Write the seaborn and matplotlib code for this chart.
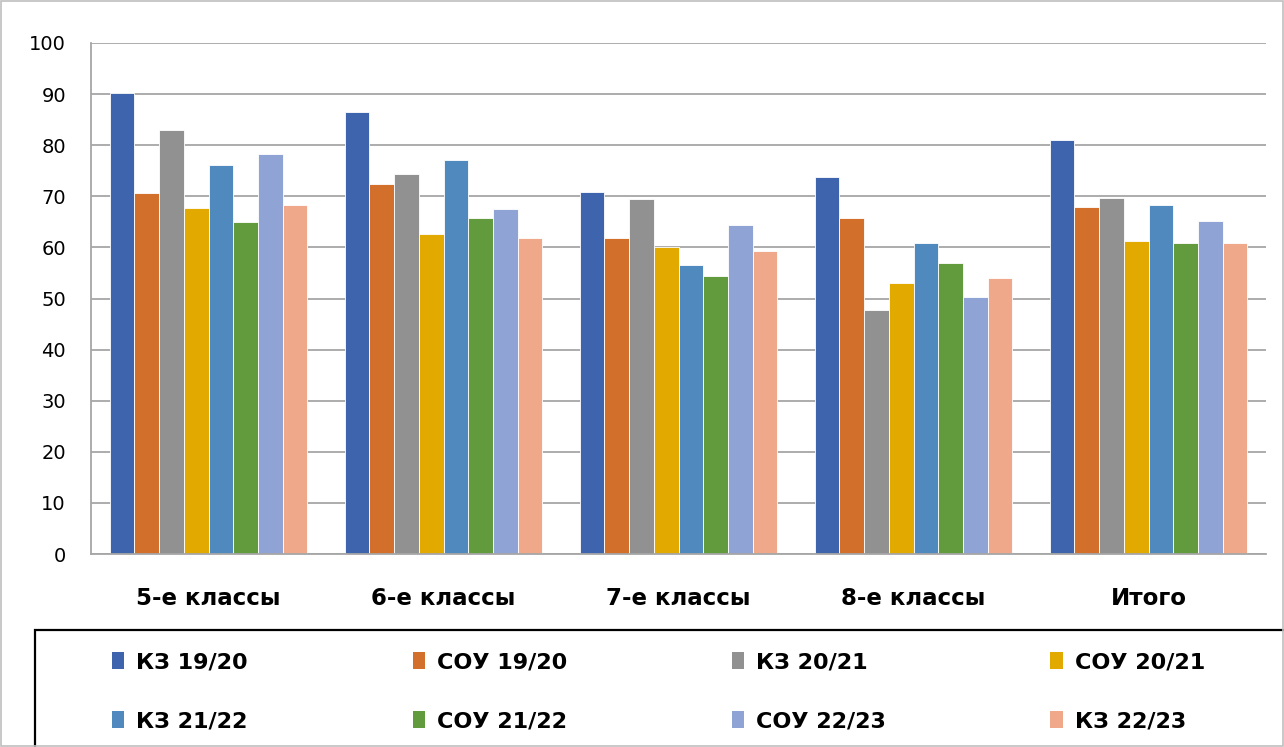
import matplotlib
matplotlib.use("Agg")
import matplotlib.pyplot as plt
import seaborn as sns
import pandas as pd
import numpy as np
from matplotlib.patches import Rectangle, Patch

categories = ["5-е классы", "6-е классы", "7-е классы", "8-е классы", "Итого"]
series = ["КЗ 19/20", "СОУ 19/20", "КЗ 20/21", "СОУ 20/21",
          "КЗ 21/22", "СОУ 21/22", "СОУ 22/23", "КЗ 22/23"]
kz_1920 = [90.2, 86.5, 70.8, 73.7, 81.0]
sou_1920 = [70.6, 72.4, 61.9, 65.8, 67.9]
kz_2021 = [83.0, 74.4, 69.4, 47.7, 69.6]
sou_2021 = [67.7, 62.7, 60.0, 53.0, 61.2]
kz_2122 = [76.2, 77.1, 56.6, 60.8, 68.2]
sou_2122 = [65.0, 65.8, 54.5, 56.9, 60.9]
sou_2223 = [78.2, 67.6, 64.4, 50.2, 65.1]
kz_2223 = [68.3, 61.9, 59.2, 54.0, 60.8]
yticks = [0, 10, 20, 30, 40, 50, 60, 70, 80, 90, 100]

colors = ["#3D64AD", "#D26F2A", "#919191", "#E2AA00",
          "#4F89BD", "#629A3E", "#8FA3D4", "#F0A88A"]

values = [kz_1920, sou_1920, kz_2021, sou_2021, kz_2122, sou_2122, sou_2223, kz_2223]
rows = []
for s, vals in zip(series, values):
    for c, v in zip(categories, vals):
        rows.append({"cat": c, "series": s, "val": v})
df = pd.DataFrame(rows)

sns.set_style("white")
plt.rcParams["font.family"] = ["DejaVu Sans"]
plt.rcParams["text.color"] = "black"
plt.rcParams["xtick.labelcolor"] = "black"
plt.rcParams["ytick.labelcolor"] = "black"

W, H = 1284, 747
fig = plt.figure(figsize=(W / 100, H / 100), dpi=100)
ax = fig.add_axes([91/W, (H-554)/H, (1266-91)/W, (554-43)/H])

sns.barplot(data=df, x="cat", y="val", hue="series", hue_order=series,
            order=categories, palette=colors, width=0.84, ax=ax,
            saturation=1, edgecolor="white", linewidth=0.6, legend=False)

ax.set_ylim(0, 100)
ax.set_xlim(-0.5, len(categories) - 0.5)
ax.set_yticks(yticks)
ax.yaxis.grid(True, color="#A6A6A6", linewidth=1.3)
ax.set_axisbelow(True)
ax.set_xlabel("")
ax.set_ylabel("")
for s in ["top", "right"]:
    ax.spines[s].set_visible(False)
for s in ["left", "bottom"]:
    ax.spines[s].set_color("#A6A6A6")
    ax.spines[s].set_linewidth(1.3)
ax.tick_params(axis="y", length=6, color="#A6A6A6", width=1.3, labelsize=14, pad=12,
               labelcolor="black")
ax.tick_params(axis="x", which="major", length=0, labelsize=16.5, pad=24, labelcolor="black")
ax.set_xticks(np.arange(-0.5, len(categories), 1.0), minor=True)
ax.tick_params(axis="x", which="minor", length=11, color="#A6A6A6", width=1.3)
for lbl in ax.get_xticklabels():
    lbl.set_fontweight("bold")

# legend frame (extends past the right and bottom edges)
fig.patches.append(Rectangle((35/W, -0.05), 1.1, (H-630)/H + 0.05, transform=fig.transFigure,
                             fill=False, edgecolor="black", linewidth=1.6))

handles = [Patch(facecolor=c, edgecolor="none") for c in colors]
order = [0, 4, 1, 5, 2, 6, 3, 7]
leg = fig.legend([handles[i] for i in order], [series[i] for i in order],
                 ncol=4, loc="center left",
                 bbox_to_anchor=(112/W, 1 - 692/H),
                 frameon=False,
                 prop={"weight": "bold", "size": 16},
                 handlelength=0.55, handleheight=0.8, handletextpad=0.55,
                 borderaxespad=0, borderpad=0, labelspacing=1.75,
                 columnspacing=7.4)
for t in leg.get_texts():
    t.set_color("black")

fig.patches.append(Rectangle((0.0008, 0.0013), 0.9984, 0.9974, transform=fig.transFigure,
                             fill=False, edgecolor="#BFBFBF", linewidth=1.2))

fig.savefig("out.png", dpi=100)
